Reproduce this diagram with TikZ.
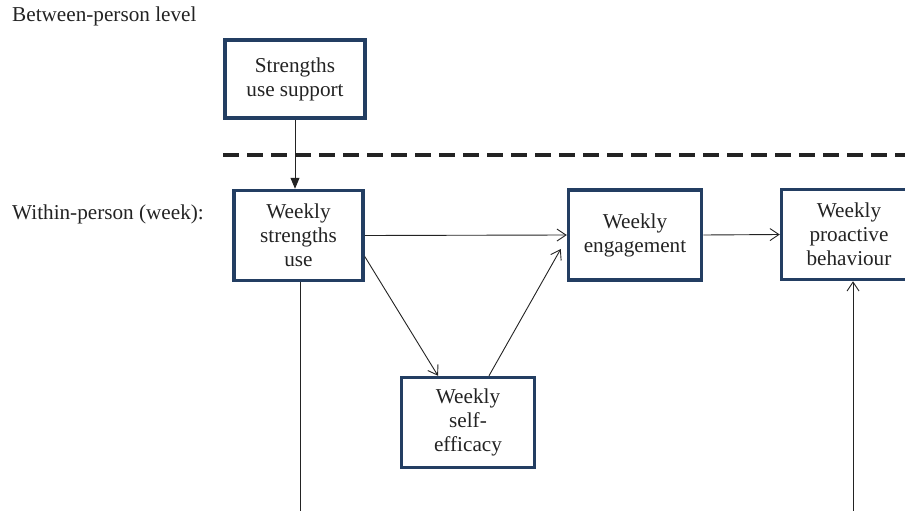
\documentclass[tikz,border=0pt]{standalone}
\usepackage{fontspec}
\setmainfont{Liberation Serif}
\usetikzlibrary{arrows.meta}
\definecolor{boxblue}{RGB}{35,62,98}
\definecolor{inkgrey}{RGB}{35,35,35}
\begin{document}
\begin{tikzpicture}[x=1pt,y=-1pt,
		level/.style={anchor=base west,inner sep=0pt,font=\fontsize{21.2}{24}\selectfont,text=inkgrey},
		var/.style={draw=boxblue,line width=3.5pt,fill=white,align=center,inner sep=0pt,minimum width=#1,minimum height=90pt,font=\fontsize{21.2}{24}\selectfont,text=inkgrey},
		var/.default=133pt,
		link/.style={draw=inkgrey,line width=0.9pt,-{Straight Barb[length=9pt,width=12pt,line width=0.9pt]}}]
	\useasboundingbox (0,0) rectangle (905,511);
	\clip (0,0) rectangle (905,511);
	\node[level] (between) at (12,22) {Between-person level};
	\node[level] (within) at (12,219) {Within-person (week):};
	\node[var=140pt,minimum height=78pt] (support) at (295,79) {Strengths\\use support};
	\node[var=129pt] (wsu) at (298.5,235.5) {Weekly\\strengths\\use};
	\node[var] (eng) at (635,235) {Weekly\\engagement};
	\node[var=135pt] (pro) at (849,234.5) {Weekly\\proactive\\behaviour};
	\node[var] (sef) at (468,422.5) {Weekly\\self-\\efficacy};
	\coordinate (dashstart) at (223,155);
	\coordinate (dashend) at (905,155);
	\draw[inkgrey,line width=3.5pt,dash pattern=on 16pt off 8pt] (dashstart) -- (dashend);
	\draw[inkgrey,line width=0.9pt,-{Triangle[length=11pt,width=9pt]}] (support.south) -- (support.south |- wsu.north);
	\draw[link] (wsu.east) -- (eng.west);
	\draw[link] ([yshift=-21]wsu.east) -- ([xshift=-30]sef.north);
	\draw[link] ([xshift=21]sef.north) -- ([xshift=-6,yshift=-14]eng.west);
	\draw[link] (eng.east) -- (pro.west);
	\coordinate (wsuend) at (300,511);
	\coordinate (proend) at (853,511);
	\draw[inkgrey,line width=0.9pt] (wsuend |- wsu.south) -- (wsuend);
	\draw[link] (proend) -- (proend |- pro.south);
\end{tikzpicture}
\end{document}
